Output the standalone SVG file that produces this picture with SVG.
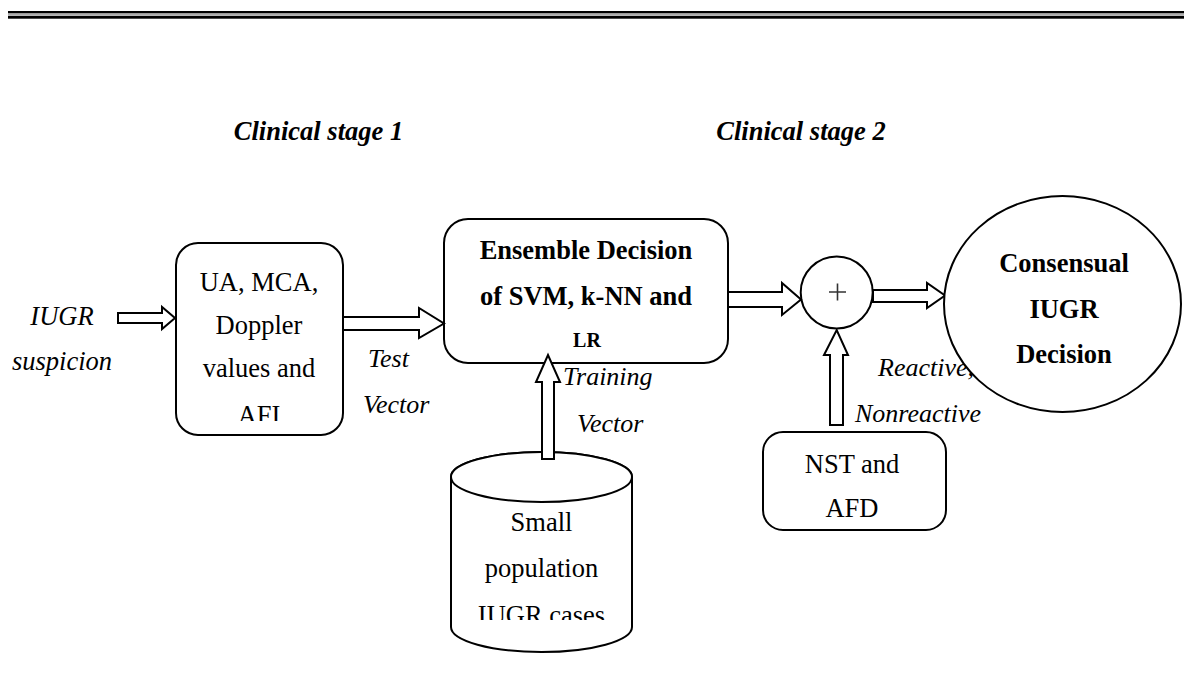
<svg xmlns="http://www.w3.org/2000/svg" width="1189" height="697" viewBox="0 0 1189 697">
<defs>
<style>
.shape{fill:#fff;stroke:#000;stroke-width:2}
.arrow{fill:#fff;stroke:#000;stroke-width:2;stroke-linejoin:miter}
.t{font-family:"Liberation Serif","Times New Roman",serif;font-size:26.5px;fill:#000;text-anchor:middle}
.b{font-weight:bold}
.i{font-style:italic}
.lbl{font-family:"Liberation Serif","Times New Roman",serif;font-size:26px;font-style:italic;fill:#000}
</style>
<clipPath id="clipBox1"><rect x="170" y="240" width="180" height="181"/></clipPath>
<clipPath id="clipCyl"><rect x="440" y="440" width="200" height="180"/></clipPath>
</defs>
<rect width="1189" height="697" fill="#fff"/>
<g id="header-rule">
<rect x="8" y="11" width="1176" height="2.4" fill="#000"/>
<rect x="8" y="14.3" width="1176" height="1.3" fill="#888"/>
<rect x="8" y="16" width="1176" height="2.7" fill="#000"/>
</g>
<g id="stage-labels">
<text class="t b i" x="318.5" y="140">Clinical stage 1</text>
<text class="t b i" x="801" y="140">Clinical stage 2</text>
</g>
<g id="input-label">
<text class="t i" x="62" y="325">IUGR</text>
<text class="t i" x="62" y="370">suspicion</text>
</g>
<g id="box-doppler">
<rect class="shape" x="176" y="243" width="167" height="192" rx="22" ry="22"/>
<g clip-path="url(#clipBox1)">
<text class="t" x="259" y="291">UA, MCA,</text>
<text class="t" x="259" y="334">Doppler</text>
<text class="t" x="259" y="377">values and</text>
<text class="t" x="259" y="424">AFI</text>
</g>
</g>
<g id="database">
<path class="shape" d="M451,477 L451,627 A90.5,25 0 0 0 632,627 L632,477 A90.5,25 0 0 0 451,477 Z"/>
<ellipse class="shape" cx="541.5" cy="477" rx="90.5" ry="25"/>
<g clip-path="url(#clipCyl)">
<text class="t" x="541.5" y="531">Small</text>
<text class="t" x="541.5" y="577">population</text>
<text class="t" x="541.5" y="624">IUGR cases</text>
</g>
</g>
<g id="box-ensemble">
<rect class="shape" x="444" y="219" width="284" height="144" rx="24" ry="24"/>
<text class="t b" x="586" y="259">Ensemble Decision</text>
<text class="t b" x="586" y="305">of SVM, k-NN and</text>
<text class="t b" x="587" y="347" style="font-size:20px">LR</text>
</g>
<g id="box-nst">
<rect class="shape" x="763" y="432" width="183" height="98" rx="20" ry="20"/>
<text class="t" x="852" y="473">NST and</text>
<text class="t" x="852" y="517">AFD</text>
</g>
<g id="summing-junction">
<circle class="shape" cx="836.7" cy="292.5" r="36"/>
<path d="M829,292 H846 M837.5,283.5 V300.5" stroke="#333" stroke-width="1.6" fill="none"/>
</g>
<g id="connectors">
<polygon class="arrow" points="118,313 162,313 162,307 175,318 162,329 162,323 118,323"/>
<polygon class="arrow" points="343,317 419,317 419,308 444,323.5 419,338 419,330 343,330"/>
<polygon class="arrow" points="728,292 782,292 782,283 801,299.5 782,315 782,307 728,307"/>
<polygon class="arrow" points="873,290 927,290 927,283 945,295.5 927,308 927,302 873,302"/>
<polygon class="arrow" points="830,425 830,355 824,355 836.7,330 848,355 843,355 843,425"/>
<polygon class="arrow" points="542,459 542,382 536,382 548,355 560,382 554,382 554,459"/>
</g>
<g id="connector-labels">
<text class="lbl" x="368" y="367">Test</text>
<text class="lbl" x="363" y="413">Vector</text>
<text class="lbl" x="563" y="385">Training</text>
<text class="lbl" x="577" y="432">Vector</text>
<text class="lbl" x="878" y="376">Reactive,</text>
<text class="lbl" x="855" y="422">Nonreactive</text>
</g>
<g id="decision">
<ellipse class="shape" cx="1062.5" cy="304" rx="118.5" ry="108"/>
<text class="t b" x="1064" y="272">Consensual</text>
<text class="t b" x="1064" y="318">IUGR</text>
<text class="t b" x="1064" y="363">Decision</text>
</g>
</svg>
